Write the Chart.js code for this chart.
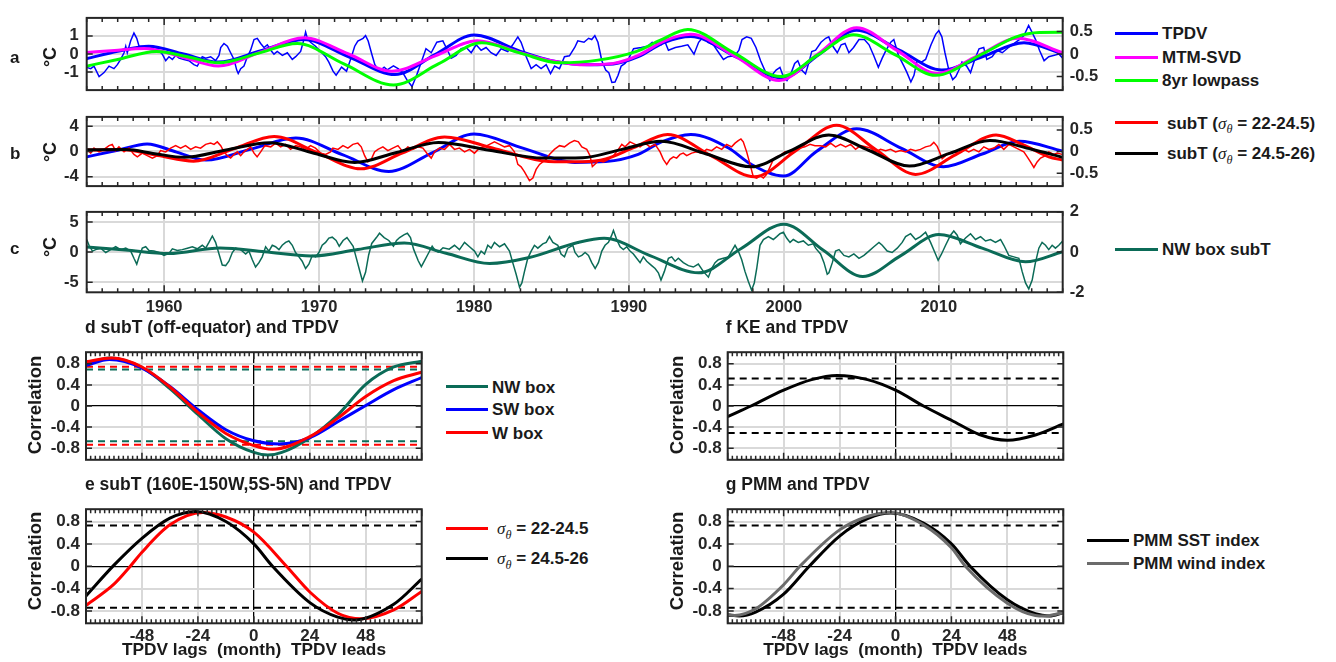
<!DOCTYPE html>
<html>
<head>
<meta charset="utf-8">
<script src="https://cdn.jsdelivr.net/npm/chart.js@4.4.0/dist/chart.umd.min.js"></script>
<style>
body { margin: 0; background: #fff; }
#fig { position: relative; width: 1336px; height: 662px; overflow: hidden;
       font-family: 'Liberation Sans', Arial, sans-serif; font-weight: bold; color: #1a1a1a; }
#fig canvas { position: absolute; }
.t { position: absolute; white-space: nowrap; line-height: 1; }
.key { position: absolute; height: 3px; }
.sg { font-family: 'Liberation Serif', serif; font-style: italic; font-weight: normal; }
.sb { font-family: 'Liberation Serif', serif; font-style: italic; font-weight: normal; font-size: 0.72em; position: relative; top: 0.38em; }
</style>
</head>
<body>
<div id="fig"></div>
<script>
// ---- panel a: TPDV (°C) ----
const tpdvRaw = [[1955.0,-0.74],[1955.26,-0.81],[1955.47,-0.67],[1955.8,-1.25],[1956.12,-1.03],[1956.44,-0.67],[1956.76,-0.81],[1956.98,-0.59],[1957.19,-0.3],[1957.41,0.07],[1957.52,0.43],[1957.62,0.07],[1957.84,0.73],[1958.05,1.16],[1958.23,0.87],[1958.38,0.43],[1958.59,0.43],[1958.91,0.36],[1959.13,0.43],[1959.34,0.21],[1959.56,0.29],[1959.88,-0.01],[1960.1,-0.37],[1960.31,-0.15],[1960.53,-0.3],[1960.74,-0.08],[1960.96,-0.23],[1961.28,-0.3],[1961.6,-0.37],[1961.92,-0.59],[1962.14,-0.67],[1962.46,-0.15],[1962.68,-0.23],[1963.0,-0.15],[1963.32,-0.37],[1963.54,-0.08],[1963.65,0.36],[1963.86,0.58],[1964.08,0.43],[1964.29,0.07],[1964.51,-0.3],[1964.68,-0.88],[1964.78,-1.08],[1964.94,-0.81],[1965.15,-0.67],[1965.37,-0.15],[1965.58,0.21],[1965.8,0.8],[1966.01,0.87],[1966.23,0.58],[1966.44,0.36],[1966.66,0.51],[1966.88,0.21],[1967.09,-0.01],[1967.3,0.14],[1967.63,-0.08],[1967.95,0.07],[1968.27,-0.3],[1968.49,-0.15],[1968.81,0.14],[1969.02,0.8],[1969.13,1.21],[1969.24,0.87],[1969.45,0.65],[1969.77,0.43],[1970.1,0.14],[1970.42,-0.15],[1970.63,-0.45],[1970.9,-0.95],[1971.1,-1.17],[1971.45,-0.73],[1971.77,-0.95],[1972.09,-0.15],[1972.3,0.43],[1972.5,0.72],[1972.84,0.87],[1973.0,1.02],[1973.17,0.72],[1973.4,0.0],[1973.6,-0.59],[1973.9,-0.95],[1974.2,-0.73],[1974.4,-0.88],[1974.8,-0.66],[1975.1,-0.81],[1975.4,-1.03],[1975.7,-1.47],[1976.0,-1.8],[1976.3,-1.17],[1976.6,-0.44],[1976.9,0.29],[1977.24,0.07],[1977.6,0.65],[1977.99,0.73],[1978.2,0.36],[1978.53,-0.23],[1978.85,-0.08],[1979.17,0.29],[1979.5,0.36],[1979.82,0.07],[1980.14,0.51],[1980.46,0.21],[1980.78,0.36],[1981.1,0.07],[1981.43,-0.08],[1981.75,0.29],[1982.18,0.14],[1982.5,0.51],[1982.83,0.95],[1983.04,0.65],[1983.37,-0.15],[1983.69,-0.81],[1984.01,-0.59],[1984.33,-0.81],[1984.66,-0.59],[1984.94,-1.08],[1985.2,-0.67],[1985.52,-0.81],[1985.84,-0.15],[1986.16,-0.1],[1986.5,0.36],[1986.7,0.73],[1987.1,0.65],[1987.4,0.87],[1987.6,0.8],[1987.8,1.02],[1988.0,0.65],[1988.25,-0.37],[1988.5,-0.89],[1988.7,-1.03],[1988.9,-1.58],[1989.1,-1.55],[1989.3,-1.18],[1989.5,-0.67],[1989.75,-0.52],[1990.0,-0.23],[1990.3,0.29],[1990.8,0.36],[1991.2,0.43],[1991.5,0.65],[1991.7,0.58],[1992.1,0.51],[1992.3,0.73],[1992.55,0.21],[1993.0,0.36],[1993.4,0.43],[1993.8,0.51],[1994.2,-0.01],[1994.5,0.65],[1994.8,0.95],[1995.1,0.65],[1995.45,0.51],[1995.8,0.07],[1996.1,-0.3],[1996.4,-0.15],[1996.85,-0.08],[1997.1,0.21],[1997.3,0.8],[1997.6,0.95],[1997.9,0.87],[1998.2,0.36],[1998.5,-0.37],[1998.8,-0.96],[1999.1,-1.47],[1999.3,-1.1],[1999.5,-0.89],[1999.75,-0.74],[2000.0,-1.33],[2000.2,-1.47],[2000.45,-1.1],[2000.7,-0.52],[2000.9,-0.37],[2001.15,-0.89],[2001.4,-1.1],[2001.6,-0.52],[2001.8,0.14],[2002.05,0.21],[2002.4,0.65],[2002.7,0.87],[2002.9,0.95],[2003.1,0.51],[2003.45,0.07],[2003.7,0.51],[2003.95,0.58],[2004.2,0.07],[2004.5,0.36],[2004.85,0.8],[2005.2,0.8],[2005.5,0.51],[2005.8,-0.08],[2006.1,-0.74],[2006.35,-0.23],[2006.6,0.21],[2006.9,0.65],[2007.1,0.8],[2007.4,-0.08],[2007.75,-0.67],[2007.95,-1.03],[2008.2,-1.55],[2008.4,-1.18],[2008.6,-0.37],[2008.9,-0.44],[2009.15,-0.3],[2009.5,0.51],[2009.8,1.09],[2010.0,1.3],[2010.2,0.95],[2010.4,0.07],[2010.65,-0.89],[2010.9,-1.42],[2011.1,-1.25],[2011.3,-0.89],[2011.5,-0.45],[2011.8,-0.67],[2012.05,-1.03],[2012.35,-0.23],[2012.6,0.29],[2012.9,0.36],[2013.1,-0.3],[2013.45,-0.15],[2013.75,0.21],[2014.1,0.07],[2014.5,0.36],[2014.85,0.58],[2015.2,0.8],[2015.5,1.02],[2015.8,1.58],[2016.0,1.24],[2016.25,0.8],[2016.5,0.21],[2016.8,-0.37],[2017.1,-0.15],[2017.4,-0.08],[2017.75,0.0],[2018.0,-0.23]];
const tpdvSmooth = [[1955,-0.26],[1957,0.15],[1959,0.43],[1961.25,0.0],[1963.5,-0.45],[1966.25,0.18],[1969,0.8],[1971.95,-0.17],[1974.9,-1.14],[1977.45,-0.05],[1980,1.05],[1983,0.14],[1985,-0.37],[1987.5,-0.59],[1989,-0.55],[1990.6,-0.15],[1992.3,0.65],[1994,0.97],[1996.95,-0.18],[1999.9,-1.33],[2002.3,-0.01],[2004.7,1.31],[2007.45,0.21],[2010.2,-0.89],[2012.85,-0.14],[2015.5,0.62],[2018,0.0]];
const mtmSvd = [[1955,0.08],[1956.8,0.2],[1958.7,0.3],[1961.1,-0.15],[1963.5,-0.67],[1966.2,0.1],[1969,0.9],[1971.9,0.0],[1974.7,-0.96],[1977.5,-0.1],[1980.2,0.73],[1983,0.07],[1985,-0.37],[1987.3,-0.6],[1989,-0.52],[1990.6,-0.08],[1992.3,0.73],[1994,1.09],[1996.9,-0.15],[1999.7,-1.47],[2002.2,0.0],[2004.7,1.46],[2007.3,0.2],[2009.9,-1.08],[2012.5,-0.1],[2015.1,0.87],[2018,0.07]];
const lowpass8 = [[1955,-0.67],[1957,-0.3],[1959.5,0.14],[1961.5,-0.15],[1963.5,-0.49],[1966,0.02],[1968.6,0.58],[1971.6,-0.55],[1974.8,-1.72],[1977.7,-0.55],[1980.5,0.62],[1983,0.05],[1985.5,-0.49],[1988,-0.34],[1990.5,0.15],[1992,0.75],[1993.8,1.36],[1996.8,0.05],[1999.8,-1.25],[2002.2,-0.05],[2004.5,1.06],[2007.2,-0.05],[2009.8,-1.18],[2012.8,0.0],[2015,0.95],[2016.5,1.19],[2018,1.2]];

// ---- panel b: subT (°C) ----
const subTShallowRaw = [[1955.0,0.34],[1955.26,-0.26],[1955.47,0.54],[1955.8,-0.06],[1956.12,0.34],[1956.44,0.93],[1956.65,1.13],[1956.86,0.14],[1957.08,0.74],[1957.41,-0.06],[1957.73,0.54],[1958.05,-0.46],[1958.27,-0.85],[1958.59,-0.26],[1958.91,-0.66],[1959.24,-1.05],[1959.56,-0.66],[1959.77,0.14],[1960.1,-0.06],[1960.42,0.54],[1960.74,0.93],[1961.06,0.54],[1961.38,0.93],[1961.71,0.34],[1962.03,0.74],[1962.35,0.54],[1962.68,1.13],[1963.0,1.33],[1963.22,1.13],[1963.43,1.53],[1963.65,0.93],[1963.86,-0.06],[1964.08,-0.66],[1964.29,-1.05],[1964.51,-0.46],[1964.72,-0.06],[1964.94,-0.66],[1965.15,-0.06],[1965.37,0.34],[1965.58,0.74],[1965.8,-0.26],[1966.0,-0.85],[1966.23,-0.06],[1966.5,0.93],[1966.88,0.74],[1967.2,1.33],[1967.52,0.74],[1967.84,1.13],[1968.16,0.34],[1968.49,0.93],[1968.81,0.74],[1969.13,0.34],[1969.45,0.93],[1969.77,0.54],[1970.1,-0.26],[1970.42,-0.46],[1970.74,-0.06],[1970.89,0.54],[1971.22,0.34],[1971.54,0.93],[1971.86,0.54],[1972.18,1.13],[1972.5,1.33],[1972.72,0.74],[1972.94,-0.66],[1973.15,-1.65],[1973.37,-1.25],[1973.58,-0.06],[1973.8,0.34],[1974.12,0.74],[1974.44,0.14],[1974.76,0.54],[1975.09,0.93],[1975.41,-0.06],[1975.73,0.74],[1976.05,0.34],[1976.38,0.74],[1976.7,0.54],[1977.02,-0.46],[1977.24,-1.05],[1977.45,-0.06],[1977.77,0.54],[1978.1,0.34],[1978.42,1.13],[1978.74,0.34],[1979.06,0.54],[1979.39,-0.06],[1979.71,0.34],[1980.03,-0.26],[1980.35,0.54],[1980.68,0.74],[1981.0,1.13],[1981.32,1.53],[1981.65,1.13],[1981.97,0.74],[1982.29,0.93],[1982.61,-0.06],[1982.83,-2.05],[1983.04,-2.44],[1983.26,-3.24],[1983.58,-4.63],[1983.8,-4.23],[1984.01,-2.84],[1984.23,-2.05],[1984.44,-1.65],[1984.66,-1.25],[1984.87,-0.46],[1985.19,0.34],[1985.52,0.93],[1985.84,0.74],[1986.16,1.33],[1986.48,1.73],[1986.74,1.53],[1986.96,0.74],[1987.28,0.34],[1987.49,-0.66],[1987.64,-2.4],[1987.82,-2.0],[1988.03,-1.45],[1988.35,-1.65],[1988.68,-1.25],[1989.0,-0.66],[1989.32,0.34],[1989.54,1.13],[1989.75,0.74],[1990.07,1.53],[1990.4,1.13],[1990.72,0.74],[1991.04,1.33],[1991.36,0.74],[1991.69,1.13],[1992.01,-0.06],[1992.22,-1.25],[1992.44,-2.05],[1992.65,-1.25],[1992.87,-0.85],[1993.08,-1.05],[1993.3,-0.46],[1993.51,-0.26],[1993.73,-0.66],[1994.05,-0.26],[1994.37,-0.06],[1994.7,-0.26],[1995.02,0.34],[1995.34,0.14],[1995.66,0.74],[1995.99,0.34],[1996.31,1.13],[1996.63,0.74],[1996.85,1.33],[1997.06,1.73],[1997.23,2.0],[1997.38,1.53],[1997.6,-0.06],[1997.82,-2.05],[1998.03,-4.03],[1998.25,-4.23],[1998.46,-3.84],[1998.68,-4.23],[1998.89,-3.64],[1999.11,-2.44],[1999.32,-1.25],[1999.54,-0.85],[1999.75,-0.66],[2000.07,-0.06],[2000.4,-0.26],[2000.72,0.34],[2001.04,0.54],[2001.36,0.74],[2001.69,1.13],[2002.01,0.93],[2002.37,0.93],[2002.7,0.74],[2003.02,1.33],[2003.34,0.74],[2003.66,1.13],[2003.99,0.74],[2004.31,1.13],[2004.63,0.34],[2004.95,0.93],[2005.28,0.74],[2005.6,0.54],[2005.92,-0.06],[2006.24,0.34],[2006.57,0.14],[2006.89,0.34],[2007.21,-0.06],[2007.53,0.14],[2007.86,-0.06],[2008.18,0.34],[2008.5,0.14],[2008.82,0.34],[2009.15,0.74],[2009.47,0.93],[2009.68,1.45],[2009.9,0.82],[2010.05,-0.06],[2010.22,-1.15],[2010.44,-0.66],[2010.65,-0.26],[2010.97,-0.06],[2011.3,-0.26],[2011.62,0.34],[2011.94,-0.06],[2012.26,0.34],[2012.59,-0.06],[2012.91,0.74],[2013.23,0.34],[2013.56,0.54],[2013.88,1.13],[2014.2,0.34],[2014.52,1.13],[2014.85,0.74],[2015.17,0.34],[2015.49,-0.06],[2015.71,-0.85],[2015.92,-1.65],[2016.14,-2.54],[2016.35,-1.65],[2016.57,-1.05],[2016.89,-0.66],[2017.1,-0.06],[2017.43,-0.46],[2017.64,-0.26],[2017.96,-0.46]];
const tpdvRefB = [[1955,-0.85],[1957,0.2],[1958.9,1.21],[1960.8,-0.1],[1962.7,-1.37],[1965.6,0.38],[1968.5,2.13],[1971.5,-0.5],[1974.5,-3.16],[1977.3,-0.2],[1980,2.8],[1983.2,0.5],[1986.5,-1.73],[1988.5,-1.6],[1990.6,-0.46],[1992.1,1.53],[1994,2.72],[1996.4,0.6],[1997.9,-2.05],[2000,-3.91],[2002.1,0.0],[2004.7,3.6],[2007.6,0.5],[2010.3,-2.44],[2012.8,-0.4],[2015.2,1.61],[2018,0.06]];
const subTShallow = [[1955,0.22],[1957.2,0.3],[1959.6,-0.65],[1961.9,-1.53],[1964.5,0.43],[1967.1,2.4],[1969.9,-0.2],[1972.7,-2.76],[1975.4,-0.2],[1978.1,2.32],[1981.4,0.4],[1984.8,-1.57],[1987,-1.62],[1988.5,-1.2],[1990.3,0.6],[1992.5,2.72],[1995.3,-0.65],[1998.1,-4.03],[2000.75,0.08],[2003.4,4.19],[2005.95,0.28],[2008.5,-3.64],[2011.1,-0.5],[2013.7,2.64],[2015.4,1.13],[2017.1,-0.85],[2018,-1.37]];
const subTDeep = [[1955,0.26],[1957.5,0.3],[1959.4,-0.35],[1961.3,-0.93],[1964,0.24],[1966.8,1.41],[1969.5,-0.15],[1972.3,-1.73],[1975,-0.15],[1977.7,1.45],[1981,0.2],[1984.5,-1.05],[1987,-1.0],[1989.5,0.3],[1992.1,1.61],[1995,-0.4],[1997.9,-2.44],[2000.4,0.1],[2002.9,2.64],[2005.5,0.16],[2008.1,-2.32],[2010.7,-0.3],[2013.3,1.73],[2016,0.35],[2018,-0.93]];

// ---- panel c: NW box subT (°C) ----
const nwBoxRaw = [[1955.0,2.09],[1955.15,1.13],[1955.37,0.17],[1955.58,0.41],[1955.9,0.65],[1956.23,-0.07],[1956.55,0.41],[1956.87,0.89],[1957.19,0.41],[1957.52,0.65],[1957.84,0.17],[1958.05,-1.03],[1958.23,-2.0],[1958.38,-0.79],[1958.59,0.65],[1958.81,0.89],[1959.02,0.26],[1959.34,0.17],[1959.67,-0.07],[1959.99,-0.55],[1960.31,-0.22],[1960.53,0.55],[1960.85,0.26],[1961.17,0.41],[1961.5,0.65],[1961.82,0.89],[1962.14,0.55],[1962.46,1.13],[1962.68,0.65],[1962.89,1.61],[1963.11,2.67],[1963.32,1.61],[1963.54,-0.31],[1963.75,-2.14],[1963.97,-2.24],[1964.18,-1.51],[1964.4,-0.07],[1964.61,0.65],[1964.94,0.41],[1965.26,-0.31],[1965.47,0.17],[1965.69,-1.27],[1965.9,-2.48],[1966.12,-1.75],[1966.33,-0.79],[1966.55,0.89],[1966.76,0.17],[1966.98,1.13],[1967.19,0.89],[1967.41,0.41],[1967.62,1.13],[1967.84,1.61],[1968.05,1.85],[1968.27,1.13],[1968.48,-0.07],[1968.7,-0.79],[1968.91,-1.51],[1969.13,-2.72],[1969.34,-2.0],[1969.56,-0.55],[1969.77,-0.79],[1969.99,-0.07],[1970.2,1.13],[1970.42,1.61],[1970.63,2.33],[1970.85,2.48],[1971.1,1.93],[1971.3,0.97],[1971.55,1.93],[1971.8,2.41],[1972.0,1.69],[1972.2,0.97],[1972.4,-0.95],[1972.6,-2.89],[1972.8,-4.8],[1973.0,-3.36],[1973.2,-0.48],[1973.4,1.44],[1973.7,2.41],[1973.9,3.13],[1974.2,2.41],[1974.5,1.93],[1974.8,0.97],[1975.0,1.93],[1975.2,2.41],[1975.5,2.89],[1975.7,3.13],[1975.9,2.41],[1976.1,0.49],[1976.4,-1.44],[1976.6,-2.4],[1976.8,-1.44],[1977.0,-0.48],[1977.3,0.97],[1977.5,0.25],[1977.7,0.0],[1978.0,0.72],[1978.4,0.49],[1978.74,1.13],[1979.06,0.41],[1979.39,1.61],[1979.71,0.89],[1980.03,0.17],[1980.25,-0.79],[1980.46,0.17],[1980.68,-0.31],[1980.89,1.13],[1981.11,0.65],[1981.32,1.61],[1981.65,0.89],[1981.97,1.37],[1982.29,0.17],[1982.5,-1.75],[1982.72,-3.68],[1982.94,-5.84],[1983.09,-5.12],[1983.26,-3.2],[1983.47,-1.03],[1983.69,0.17],[1983.9,1.13],[1984.12,0.65],[1984.44,1.37],[1984.66,1.61],[1984.87,2.57],[1985.09,1.61],[1985.41,1.13],[1985.62,-0.31],[1985.84,-0.79],[1986.05,0.65],[1986.38,1.13],[1986.52,-0.07],[1986.74,-0.79],[1986.96,-0.55],[1987.17,-0.07],[1987.39,-0.55],[1987.6,-1.75],[1987.82,-2.72],[1988.03,-1.75],[1988.25,0.17],[1988.46,1.13],[1988.68,1.61],[1988.89,2.81],[1989.0,3.6],[1989.21,2.09],[1989.43,0.89],[1989.64,0.41],[1989.86,0.89],[1990.07,0.17],[1990.29,-0.31],[1990.5,-1.03],[1990.72,-1.75],[1990.93,-0.79],[1991.15,-1.51],[1991.47,-2.24],[1991.69,-2.72],[1991.9,-3.44],[1992.07,-4.64],[1992.29,-3.2],[1992.55,-1.03],[1992.76,-0.79],[1992.98,-1.51],[1993.19,-1.03],[1993.51,-1.75],[1993.84,-2.24],[1994.16,-2.48],[1994.48,-1.99],[1994.8,-3.2],[1995.13,-4.16],[1995.34,-2.72],[1995.56,-1.75],[1995.77,-1.27],[1996.09,-1.03],[1996.42,-0.79],[1996.63,0.17],[1996.85,1.13],[1997.06,0.17],[1997.28,-1.27],[1997.49,-3.2],[1997.71,-4.88],[1997.92,-6.32],[1998.09,-5.12],[1998.25,-2.72],[1998.46,1.13],[1998.68,2.09],[1999.0,2.57],[1999.32,2.09],[1999.54,2.57],[1999.75,3.05],[1999.97,3.29],[2000.18,2.33],[2000.4,1.61],[2000.61,2.09],[2000.93,1.61],[2001.26,1.85],[2001.58,1.13],[2001.9,1.37],[2002.05,0.65],[2002.37,-0.31],[2002.59,-1.75],[2002.8,-3.68],[2002.91,-3.44],[2003.13,-1.75],[2003.34,0.17],[2003.56,0.41],[2003.88,-0.55],[2004.2,-0.79],[2004.52,-0.31],[2004.85,-1.03],[2005.17,-0.55],[2005.49,0.17],[2005.81,0.89],[2006.14,1.61],[2006.35,1.13],[2006.67,0.17],[2006.99,-0.07],[2007.32,0.65],[2007.64,1.61],[2007.86,2.57],[2008.18,3.05],[2008.5,2.09],[2008.82,2.57],[2009.15,3.29],[2009.47,1.61],[2009.79,-0.31],[2009.96,-1.35],[2010.18,-0.31],[2010.44,1.13],[2010.76,2.81],[2010.97,3.5],[2011.19,2.81],[2011.4,1.37],[2011.73,2.33],[2012.05,3.05],[2012.37,2.09],[2012.7,2.57],[2013.02,1.85],[2013.34,2.09],[2013.66,1.61],[2013.99,2.09],[2014.2,1.13],[2014.52,-0.55],[2014.85,-0.79],[2015.17,-1.03],[2015.38,-3.2],[2015.6,-5.12],[2015.81,-6.1],[2016.03,-4.64],[2016.24,-1.75],[2016.46,0.65],[2016.67,1.61],[2016.89,1.13],[2017.1,0.41],[2017.32,1.13],[2017.53,0.65],[2017.75,1.13],[2018.0,1.85]];
const nwBoxSmooth = [[1955,0.85],[1957.5,0.35],[1960.3,-0.25],[1963.6,0.68],[1966.5,0.05],[1969.5,-0.65],[1972.5,0.43],[1975.5,1.5],[1978.2,-0.2],[1981,-1.9],[1983.5,-0.95],[1986.7,1.6],[1988.4,2.3],[1991.4,-0.62],[1994.5,-3.44],[1997.25,0.6],[2000,4.64],[2002.55,0.29],[2005.1,-4.06],[2007.55,-0.58],[2010,2.9],[2012.8,0.65],[2015.6,-1.61],[2018,0.07]];

// ---- lagged correlations (lag in months) ----
const dNW = [[-72,0.79],[-62,0.91],[-48,0.73],[-36,0.33],[-24,-0.16],[-12,-0.62],[0,-0.88],[6,-0.93],[12,-0.88],[24,-0.6],[36,-0.17],[48,0.41],[60,0.74],[72,0.85]];
const dSW = [[-72,0.77],[-62,0.88],[-48,0.72],[-36,0.37],[-24,-0.07],[-12,-0.45],[0,-0.66],[11,-0.72],[24,-0.6],[36,-0.3],[48,0.01],[60,0.31],[72,0.54]];
const dW = [[-72,0.84],[-61,0.91],[-48,0.74],[-36,0.36],[-24,-0.12],[-12,-0.52],[0,-0.75],[8,-0.82],[24,-0.58],[36,-0.23],[48,0.18],[60,0.48],[72,0.64]];
const dSigNW = [0.69, -0.67];
const dSigW = [0.745, -0.735];
const eShallow = [[-72,-0.7],[-60,-0.32],[-53,0],[-48,0.25],[-36,0.74],[-22,0.96],[-12,0.88],[0,0.61],[14,0],[24,-0.46],[36,-0.84],[46,-0.94],[60,-0.78],[72,-0.45]];
const eDeep = [[-72,-0.53],[-60,0.02],[-48,0.5],[-36,0.86],[-25,0.98],[-12,0.8],[0,0.4],[8,0],[24,-0.65],[36,-0.91],[43,-0.96],[60,-0.68],[72,-0.23]];
const eSig = [0.73, -0.74];
const fKE = [[-72,-0.2],[-62,0],[-48,0.3],[-36,0.5],[-25,0.58],[-12,0.5],[0,0.3],[12,0],[24,-0.27],[36,-0.54],[48,-0.65],[60,-0.55],[72,-0.34]];
const fSig = [0.52, -0.51];
const gSST = [[-72,-0.87],[-67,-0.89],[-60,-0.82],[-48,-0.5],[-37,0],[-24,0.54],[-12,0.85],[-2,0.95],[12,0.77],[24,0.4],[32,0],[48,-0.6],[60,-0.85],[66,-0.89],[72,-0.83]];
const gWind = [[-72,-0.86],[-69,-0.88],[-60,-0.76],[-48,-0.33],[-41,0],[-24,0.65],[-12,0.89],[-2,0.96],[12,0.74],[24,0.33],[30,0],[48,-0.66],[60,-0.88],[64,-0.89],[72,-0.83]];
const gSig = [0.73, -0.74];

// ---- ticks ----
const yearTicks = [1960, 1970, 1980, 1990, 2000, 2010];
const aLeftTicks = [-1, 0, 1], aRightTicks = [-0.5, 0, 0.5];
const bLeftTicks = [-4, 0, 4], bRightTicks = [-0.5, 0, 0.5];
const cLeftTicks = [-5, 0, 5], cRightTicks = [-2, 0, 2];
const lagTicks = [-48, -24, 0, 24, 48];
const corrTicks = [-0.8, -0.4, 0, 0.4, 0.8];

const BLUE = '#0000ff', MAGENTA = '#ff00ff', GREEN = '#00ff00', RED = '#ff0000',
      BLACK = '#000000', TEAL = '#0b6b57', GRAY = '#6b6b6b', GRID = '#d9d9d9', INK = '#262626';

Chart.defaults.font.family = "'Liberation Sans', Arial, sans-serif";
Chart.defaults.font.weight = 'bold';
Chart.defaults.color = INK;
Chart.defaults.animation = false;
Chart.defaults.plugins.legend.display = false;
Chart.defaults.plugins.tooltip.enabled = false;

// box + inward tick marks, like the matlab axes
const framePlugin = {
    id: 'frame',
    afterDatasetsDraw (chart, args, o) {
        const { ctx, chartArea: a, scales } = chart;
        ctx.save();
        ctx.strokeStyle = INK;
        ctx.lineWidth = 1.5;
        ctx.beginPath();
        for (let i = 0; o.from + i * o.step <= o.to + 1e-9; i++) {
            const v = o.from + i * o.step;
            const px = scales.x.getPixelForValue(v);
            const len = Math.abs(v % o.major) < 1e-6 ? o.majorLen : o.minorLen;
            ctx.moveTo(px, a.top); ctx.lineTo(px, a.top + len);
            ctx.moveTo(px, a.bottom); ctx.lineTo(px, a.bottom - len);
        }
        const yl = scales.y, yr = scales.y1 || scales.y;
        yl.ticks.forEach(t => {
            const py = yl.getPixelForValue(t.value);
            ctx.moveTo(a.left, py); ctx.lineTo(a.left + o.yLen, py);
        });
        yr.ticks.forEach(t => {
            const py = yr.getPixelForValue(t.value);
            ctx.moveTo(a.right, py); ctx.lineTo(a.right - o.yLen, py);
        });
        ctx.stroke();
        ctx.lineWidth = 2;
        ctx.strokeRect(a.left, a.top, a.right - a.left, a.bottom - a.top);
        ctx.restore();
    }
};

const fig = document.getElementById('fig');

function addCanvas (left, top, w, h) {
    const c = document.createElement('canvas');
    c.width = w; c.height = h;
    c.style.left = left + 'px'; c.style.top = top + 'px';
    c.style.width = w + 'px'; c.style.height = h + 'px';
    fig.appendChild(c);
    return c;
}

function addText (html, x, y, size, mode) {
    const d = document.createElement('div');
    d.className = 't';
    d.innerHTML = html;
    d.style.fontSize = size + 'px';
    d.style.left = x + 'px';
    d.style.top = y + 'px';
    d.style.transform = mode === 'rot' ? 'translate(-50%,-50%) rotate(-90deg)'
        : mode === 'mid' ? 'translate(-50%,-50%)' : 'translateY(-50%)';
    fig.appendChild(d);
}

function addKey (x1, x2, y, color, label, size, gap = 4) {
    const k = document.createElement('div');
    k.className = 'key';
    k.style.left = x1 + 'px';
    k.style.width = (x2 - x1) + 'px';
    k.style.top = (y - 1.5) + 'px';
    k.style.background = color;
    fig.appendChild(k);
    addText(label, x2 + gap, y, size);
}

const setTicks = list => s => { s.ticks = list.map(v => ({ value: v })); };

function line (data, color, width, smooth) {
    return {
        data, borderColor: color, borderWidth: width, pointRadius: 0, fill: false,
        cubicInterpolationMode: smooth ? 'monotone' : 'default', tension: 0
    };
}

function dashed (v, color) {
    return { data: [[-72, v], [72, v]], borderColor: color, borderWidth: 2, borderDash: [7, 5], pointRadius: 0 };
}

function timePanel (top, height, padTop, padBottom, showX, left, right, datasets) {
    const W = 1110;
    return new Chart(addCanvas(0, top, W, height), {
        type: 'line',
        data: { datasets },
        options: {
            responsive: false,
            devicePixelRatio: 1,
            layout: { padding: { top: padTop, bottom: padBottom, left: 0, right: 0 } },
            scales: {
                x: {
                    type: 'linear', min: 1955, max: 2018,
                    afterBuildTicks: setTicks(yearTicks),
                    afterFit: s => { s.height = showX ? 28 : 0; },
                    grid: { color: GRID, lineWidth: 2, drawTicks: false },
                    border: { display: false },
                    ticks: { display: showX, padding: 5, autoSkip: false, maxRotation: 0,
                             font: { size: 16.5 }, callback: v => String(v) }
                },
                y: {
                    min: left.min, max: left.max,
                    afterBuildTicks: setTicks(left.ticks),
                    afterFit: s => { s.width = 86.7; },
                    grid: { color: GRID, lineWidth: 2, drawTicks: false },
                    border: { display: false },
                    ticks: { padding: 8, font: { size: 16.5 } }
                },
                y1: {
                    position: 'right', min: right.min, max: right.max,
                    afterBuildTicks: setTicks(right.ticks),
                    afterFit: s => { s.width = W - 1062.7; },
                    grid: { display: false, drawTicks: false },
                    border: { display: false },
                    ticks: { padding: 7, font: { size: 16.5 } }
                }
            },
            plugins: { frame: { from: 1955, to: 2018, step: 1, major: 10, minorLen: 4, majorLen: 7, yLen: 6 } }
        },
        plugins: [framePlugin]
    });
}

const zeroLine = c => c.tick && c.tick.value === 0;

function lagPanel (left, top, height, padTop, padBottom, yWidth, padRight, showX, datasets) {
    const W = 440;
    return new Chart(addCanvas(left, top, W, height), {
        type: 'line',
        data: { datasets },
        options: {
            responsive: false,
            devicePixelRatio: 1,
            layout: { padding: { top: padTop, bottom: padBottom, left: 0, right: padRight } },
            scales: {
                x: {
                    type: 'linear', min: -72, max: 72,
                    afterBuildTicks: setTicks(lagTicks),
                    afterFit: s => { s.height = showX ? 24 : 0; },
                    grid: { color: c => zeroLine(c) ? BLACK : GRID, lineWidth: c => zeroLine(c) ? 1.3 : 2, drawTicks: false },
                    border: { display: false },
                    ticks: { display: showX, padding: 3, autoSkip: false, maxRotation: 0, font: { size: 17 } }
                },
                y: {
                    min: -1.02, max: 1.02,
                    afterBuildTicks: setTicks(corrTicks),
                    afterFit: s => { s.width = yWidth; },
                    grid: { color: c => zeroLine(c) ? BLACK : GRID, lineWidth: c => zeroLine(c) ? 1.3 : 2, drawTicks: false },
                    border: { display: false },
                    ticks: { padding: 6, font: { size: 17 } }
                }
            },
            plugins: { frame: { from: -72, to: 72, step: 2, major: 24, minorLen: 4, majorLen: 7, yLen: 6 } }
        },
        plugins: [framePlugin]
    });
}

// top three panels (first dataset is drawn on top)
timePanel(0, 108, 11, 6.3, false,
    { min: -2, max: 2, ticks: aLeftTicks }, { min: -0.8, max: 0.8, ticks: aRightTicks }, [
        line(lowpass8, GREEN, 3, true),
        line(mtmSvd, MAGENTA, 3, true),
        line(tpdvSmooth, BLUE, 3, true),
        line(tpdvRaw, BLUE, 1.5, false)
    ]);

timePanel(99, 105, 6, 6.7, false,
    { min: -5.5, max: 5.5, ticks: bLeftTicks }, { min: -0.8, max: 0.8, ticks: bRightTicks }, [
        line(subTDeep, BLACK, 3, true),
        line(subTShallow, RED, 3, true),
        line(subTShallowRaw, RED, 1.5, false),
        line(tpdvRefB, BLUE, 3, true)
    ]);

timePanel(194, 127, 6, 0.7, true,
    { min: -6.67, max: 6.67, ticks: cLeftTicks }, { min: -2, max: 2, ticks: cRightTicks }, [
        line(nwBoxSmooth, TEAL, 3, true),
        line(nwBoxRaw, TEAL, 1.5, false)
    ]);

// lagged correlation panels
lagPanel(0, 336, 140, 6.3, 9.3, 86, 18.3, false, [
    line(dW, RED, 3, true),
    line(dSW, BLUE, 3, true),
    line(dNW, TEAL, 3, true),
    dashed(dSigW[0], RED), dashed(dSigW[1], RED),
    dashed(dSigNW[0], TEAL), dashed(dSigNW[1], TEAL)
]);

lagPanel(0, 493, 155, 6, 0.7, 86, 18.3, true, [
    line(eDeep, BLACK, 3, true),
    line(eShallow, RED, 3, true),
    dashed(eSig[0], BLACK), dashed(eSig[1], BLACK)
]);

lagPanel(640, 336, 140, 6.3, 9.3, 87.7, 16.7, false, [
    line(fKE, BLACK, 3, true),
    dashed(fSig[0], BLACK), dashed(fSig[1], BLACK)
]);

lagPanel(640, 493, 155, 6, 0.7, 87.7, 16.7, true, [
    line(gWind, GRAY, 3, true),
    line(gSST, BLACK, 3, true),
    dashed(gSig[0], BLACK), dashed(gSig[1], BLACK)
]);

// panel letters and axis titles
addText('a', 10, 57, 17);
addText('b', 10, 152.5, 17);
addText('c', 10, 247.5, 17);
addText('°C', 50, 56.5, 18, 'rot');
addText('°C', 50, 151.5, 18, 'rot');
addText('°C', 50, 246.5, 18, 'rot');

addText('d subT (off-equator) and TPDV', 85, 328.3, 17.5);
addText('e subT (160E-150W,5S-5N) and TPDV', 85, 485, 17.5);
addText('f KE and TPDV', 725.7, 328.3, 17.5);
addText('g PMM and TPDV', 725.7, 485, 17.5);

addText('Correlation', 35, 404.5, 18.5, 'rot');
addText('Correlation', 35, 561.2, 18.5, 'rot');
addText('Correlation', 676.7, 404.5, 18.5, 'rot');
addText('Correlation', 676.7, 561.2, 18.5, 'rot');

addText('TPDV lags&nbsp;&nbsp;(month)&nbsp;&nbsp;TPDV leads', 254, 650, 17.3, 'mid');
addText('TPDV lags&nbsp;&nbsp;(month)&nbsp;&nbsp;TPDV leads', 895.3, 650, 17.3, 'mid');

// legends
const sig = '<span class="sg">σ</span><span class="sb">θ</span>';
addKey(1115, 1158, 33.3, BLUE, 'TPDV', 17);
addKey(1115, 1158, 57, MAGENTA, 'MTM-SVD', 17);
addKey(1115, 1158, 80, GREEN, '8yr lowpass', 17);
addKey(1115, 1158, 122.7, RED, 'subT (' + sig + ' = 22-24.5)', 17, 9);
addKey(1115, 1158, 153.3, BLACK, 'subT (' + sig + ' = 24.5-26)', 17, 9);
addKey(1115, 1158, 249.3, TEAL, 'NW box subT', 17);

addKey(446, 488, 386.7, TEAL, 'NW box', 17);
addKey(446, 488, 409.3, BLUE, 'SW box', 17);
addKey(446, 488, 432.7, RED, 'W box', 17);
addKey(446, 488, 528.3, RED, sig + ' = 22-24.5', 17, 9);
addKey(446, 488, 558.3, BLACK, sig + ' = 24.5-26', 17, 9);

addKey(1087, 1129, 540, BLACK, 'PMM SST index', 17);
addKey(1087, 1129, 563.3, GRAY, 'PMM wind index', 17);
</script>
</body>
</html>
